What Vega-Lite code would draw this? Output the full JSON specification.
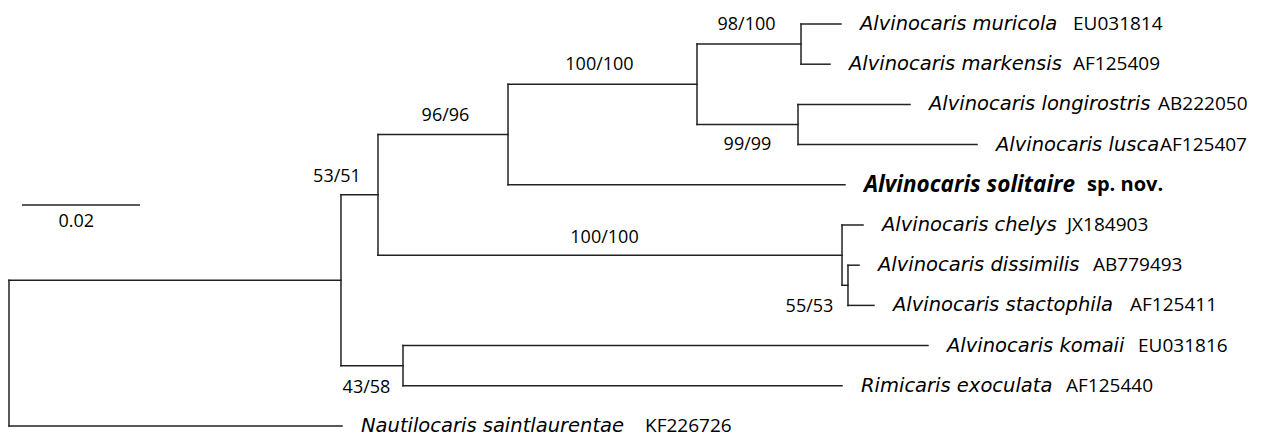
{
  "$schema": "https://vega.github.io/schema/vega-lite/v6.json",
  "width": 1269,
  "height": 436,
  "autosize": {"type": "fit", "contains": "padding"},
  "padding": 0,
  "background": "white",
  "config": {"view": {"stroke": null}, "text": {"font": "Open Sans", "color": "#000000"}},
  "datasets": {
    "edges": [
      {"x": 0, "x2": 0.05627, "y": 6.375, "y2": 6.375},
      {"x": 0, "x2": 0.05644, "y": 10, "y2": 10},
      {"x": 0.05627, "x2": 0.06254, "y": 4.25, "y2": 4.25},
      {"x": 0.05627, "x2": 0.06678, "y": 8.5, "y2": 8.5},
      {"x": 0.06254, "x2": 0.08458, "y": 2.75, "y2": 2.75},
      {"x": 0.06254, "x2": 0.14119, "y": 5.75, "y2": 5.75},
      {"x": 0.08458, "x2": 0.14169, "y": 4, "y2": 4},
      {"x": 0.08458, "x2": 0.11661, "y": 1.5, "y2": 1.5},
      {"x": 0.11661, "x2": 0.13424, "y": 0.5, "y2": 0.5},
      {"x": 0.11661, "x2": 0.13373, "y": 2.5, "y2": 2.5},
      {"x": 0.13424, "x2": 0.14102, "y": 0, "y2": 0},
      {"x": 0.13424, "x2": 0.13915, "y": 1, "y2": 1},
      {"x": 0.13373, "x2": 0.15271, "y": 2, "y2": 2},
      {"x": 0.13373, "x2": 0.16407, "y": 3, "y2": 3},
      {"x": 0.14119, "x2": 0.14475, "y": 5, "y2": 5},
      {"x": 0.14119, "x2": 0.1422, "y": 6.5, "y2": 6.5},
      {"x": 0.1422, "x2": 0.14407, "y": 6, "y2": 6},
      {"x": 0.1422, "x2": 0.14661, "y": 7, "y2": 7},
      {"x": 0.06678, "x2": 0.15576, "y": 8, "y2": 8},
      {"x": 0.06678, "x2": 0.14119, "y": 9, "y2": 9},
      {"x": 0, "x2": 0, "y": 6.375, "y2": 10},
      {"x": 0.05627, "x2": 0.05627, "y": 4.25, "y2": 8.5},
      {"x": 0.06254, "x2": 0.06254, "y": 2.75, "y2": 5.75},
      {"x": 0.06678, "x2": 0.06678, "y": 8, "y2": 9},
      {"x": 0.08458, "x2": 0.08458, "y": 1.5, "y2": 4},
      {"x": 0.11661, "x2": 0.11661, "y": 0.5, "y2": 2.5},
      {"x": 0.13424, "x2": 0.13424, "y": 0, "y2": 1},
      {"x": 0.13373, "x2": 0.13373, "y": 2, "y2": 3},
      {"x": 0.14119, "x2": 0.14119, "y": 5, "y2": 6.5},
      {"x": 0.1422, "x2": 0.1422, "y": 6, "y2": 7}
    ],
    "leaves": [
      {"name": "Alvinocaris muricola", "acc": "EU031814", "tip": 0.14102, "y": 0, "acc_x": 0.18034, "bold": false},
      {"name": "Alvinocaris markensis", "acc": "AF125409", "tip": 0.13915, "y": 1, "acc_x": 0.18034, "bold": false},
      {"name": "Alvinocaris longirostris", "acc": "AB222050", "tip": 0.15271, "y": 2, "acc_x": 0.19475, "bold": false},
      {"name": "Alvinocaris lusca", "acc": "AF125407", "tip": 0.16407, "y": 3, "acc_x": 0.19508, "bold": false},
      {"name": "Alvinocaris solitaire", "acc": "sp. nov.", "tip": 0.14169, "y": 4, "acc_x": 0.18271, "bold": true},
      {"name": "Alvinocaris chelys", "acc": "JX184903", "tip": 0.14475, "y": 5, "acc_x": 0.17932, "bold": false},
      {"name": "Alvinocaris dissimilis", "acc": "AB779493", "tip": 0.14407, "y": 6, "acc_x": 0.18373, "bold": false},
      {"name": "Alvinocaris stactophila", "acc": "AF125411", "tip": 0.14661, "y": 7, "acc_x": 0.19, "bold": false},
      {"name": "Alvinocaris komaii", "acc": "EU031816", "tip": 0.15576, "y": 8, "acc_x": 0.19136, "bold": false},
      {"name": "Rimicaris exoculata", "acc": "AF125440", "tip": 0.14119, "y": 9, "acc_x": 0.17915, "bold": false},
      {"name": "Nautilocaris saintlaurentae", "acc": "KF226726", "tip": 0.05644, "y": 10, "acc_x": 0.1078, "bold": false}
    ],
    "support": [
      {"label": "98/100", "x": 0.125, "y": 0.025},
      {"label": "100/100", "x": 0.10008, "y": 1.02},
      {"label": "96/96", "x": 0.07398, "y": 2.289},
      {"label": "53/51", "x": 0.05559, "y": 3.806},
      {"label": "100/100", "x": 0.10093, "y": 5.323},
      {"label": "99/99", "x": 0.12517, "y": 3.01},
      {"label": "55/53", "x": 0.13568, "y": 7.04},
      {"label": "43/58", "x": 0.06059, "y": 9.055}
    ],
    "scalebar": [
      {"x": 0.0022, "x2": 0.0222, "y": 4.502, "label": "0.02", "lx": 0.0114, "ly": 4.925}
    ]
  },
  "layer": [
    {
      "data": {"name": "edges"},
      "mark": {"type": "rule", "color": "#222222", "strokeWidth": 1.5, "strokeCap": "square"},
      "encoding": {
        "x": {"field": "x", "type": "quantitative", "scale": {"domain": [-0.001525, 0.213559], "nice": false, "zero": false}, "axis": null},
        "x2": {"field": "x2"},
        "y": {"field": "y", "type": "quantitative", "scale": {"domain": [-0.597, 10.249], "reverse": true, "nice": false, "zero": false}, "axis": null},
        "y2": {"field": "y2"}
      }
    },
    {
      "data": {"name": "scalebar"},
      "mark": {"type": "rule", "color": "#222222", "strokeWidth": 1.5},
      "encoding": {
        "x": {"field": "x", "type": "quantitative"},
        "x2": {"field": "x2"},
        "y": {"field": "y", "type": "quantitative"}
      }
    },
    {
      "data": {"name": "scalebar"},
      "mark": {"type": "text", "fontSize": 18, "align": "center", "baseline": "middle"},
      "encoding": {
        "x": {"field": "lx", "type": "quantitative"},
        "y": {"field": "ly", "type": "quantitative"},
        "text": {"field": "label"}
      }
    },
    {
      "data": {"name": "support"},
      "mark": {"type": "text", "fontSize": 18, "align": "center", "baseline": "middle"},
      "encoding": {
        "x": {"field": "x", "type": "quantitative"},
        "y": {"field": "y", "type": "quantitative"},
        "text": {"field": "label"}
      }
    },
    {
      "data": {"name": "leaves"},
      "transform": [{"filter": "!datum.bold"}],
      "mark": {"type": "text", "font": "DejaVu Sans", "fontSize": 19.5, "fontStyle": "italic", "align": "left", "baseline": "middle", "dx": 19},
      "encoding": {
        "x": {"field": "tip", "type": "quantitative"},
        "y": {"field": "y", "type": "quantitative"},
        "text": {"field": "name"}
      }
    },
    {
      "data": {"name": "leaves"},
      "transform": [{"filter": "!datum.bold"}],
      "mark": {"type": "text", "fontSize": 19, "align": "left", "baseline": "middle"},
      "encoding": {
        "x": {"field": "acc_x", "type": "quantitative"},
        "y": {"field": "y", "type": "quantitative"},
        "text": {"field": "acc"}
      }
    },
    {
      "data": {"name": "leaves"},
      "transform": [{"filter": "datum.bold"}],
      "mark": {"type": "text", "fontSize": 22.5, "fontStyle": "italic", "fontWeight": "bold", "align": "left", "baseline": "middle", "dx": 19},
      "encoding": {
        "x": {"field": "tip", "type": "quantitative"},
        "y": {"field": "y", "type": "quantitative"},
        "text": {"field": "name"}
      }
    },
    {
      "data": {"name": "leaves"},
      "transform": [{"filter": "datum.bold"}],
      "mark": {"type": "text", "fontSize": 20, "fontWeight": "bold", "align": "left", "baseline": "middle"},
      "encoding": {
        "x": {"field": "acc_x", "type": "quantitative"},
        "y": {"field": "y", "type": "quantitative"},
        "text": {"field": "acc"}
      }
    }
  ]
}
